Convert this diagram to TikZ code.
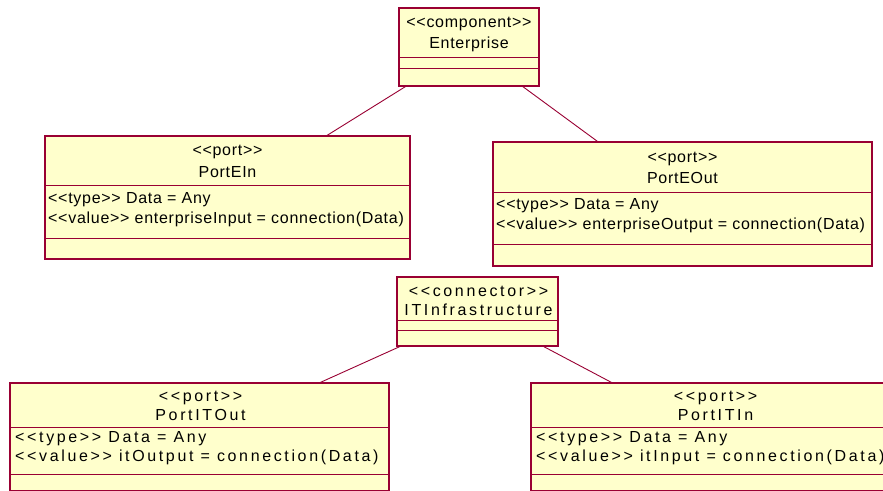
\documentclass[tikz,border=0pt]{standalone}
\usepackage{fontspec}
\usetikzlibrary{calc}
\newfontfamily\umlA[LetterSpace=4.5,Ligatures=TeXOff]{Liberation Sans}
\newfontfamily\umlB[LetterSpace=16.5,Ligatures=TeXOff]{Liberation Sans}
\definecolor{umlred}{RGB}{153,0,51}
\definecolor{umlfill}{RGB}{255,255,204}
\newcommand\umlll{<<}
\newcommand\umlgg{>>}
\newcommand\umldiv[2]{\draw[divline] ($(#1.north west)+(0,#2)$) -- ($(#1.north east)+(0,#2)$);}
\tikzset{
  umlbox/.style={rectangle, draw=umlred, fill=umlfill, line width=1.4pt,
    inner sep=0pt, outer sep=0pt, anchor=north west},
  divline/.style={draw=umlred, line width=0.9pt},
  conn/.style={draw=umlred, line width=0.9pt},
  ta/.style={inner sep=0pt, font=\umlA\fontsize{16}{19}\selectfont},
  tb/.style={inner sep=0pt, font=\umlB\fontsize{16}{19}\selectfont},
  tc/.style={anchor=base},
  tl/.style={anchor=base west}
}
\begin{document}
\begin{tikzpicture}[x=1pt,y=-1pt]
\useasboundingbox (0,0) rectangle (883,490);
\clip (0,0) rectangle (883,490);
\fill[white] (0,0) rectangle (883,490);

% boxes
\node[umlbox, minimum width=140pt, minimum height=78pt] (ent) at (399,8) {};
\node[umlbox, minimum width=365pt, minimum height=123pt] (pin) at (45,136) {};
\node[umlbox, minimum width=379pt, minimum height=124pt] (pout) at (493,142) {};
\node[umlbox, minimum width=161pt, minimum height=69pt] (itc) at (397,277) {};
\node[umlbox, minimum width=379pt, minimum height=108pt] (itout) at (10,383) {};
\node[umlbox, minimum width=367pt, minimum height=108pt] (itin) at (531,383) {};

% compartments
\umldiv{ent}{49}
\umldiv{ent}{60}
\umldiv{pin}{49}
\umldiv{pin}{102}
\umldiv{pout}{50}
\umldiv{pout}{102}
\umldiv{itc}{43}
\umldiv{itc}{53}
\umldiv{itout}{44}
\umldiv{itout}{91}
\umldiv{itin}{44}
\umldiv{itin}{91}

% connectors
\draw[conn] (ent) -- (pin);
\draw[conn] (ent) -- (pout);
\draw[conn] (itc) -- (itout);
\draw[conn] (itc) -- (itin);

% texts: Enterprise
\node[ta, tc] (t1) at (469,27) {\umlll component\umlgg};
\node[ta, tc] (t2) at (469,48) {Enterprise};
% PortEIn
\node[ta, tc] (t3) at (227.5,155.5) {\umlll port\umlgg};
\node[ta, tc] (t4) at (227.5,177) {PortEIn};
\node[ta, tl] (t5) at (48,203) {\umlll type\umlgg{} Data = Any};
\node[ta, tl] (t6) at (48,223) {\umlll value\umlgg{} enterpriseInput = connection(Data)};
% PortEOut
\node[ta, tc] (t7) at (682.5,162) {\umlll port\umlgg};
\node[ta, tc] (t8) at (682.5,183.5) {PortEOut};
\node[ta, tl] (t9) at (496,209) {\umlll type\umlgg{} Data = Any};
\node[ta, tl] (t10) at (496,229.5) {\umlll value\umlgg{} enterpriseOutput = connection(Data)};
% ITInfrastructure
\node[tb, tc] (t11) at (478.5,296.5) {\umlll connector\umlgg};
\node[tb, tc] (t12) at (478.5,315) {ITInfrastructure};
% PortITOut
\node[tb, tc] (t13) at (200.5,401.5) {\umlll port\umlgg};
\node[tb, tc] (t14) at (200.5,420) {PortITOut};
\node[tb, tl] (t15) at (15,442.5) {\umlll type\umlgg{} Data = Any};
\node[tb, tl] (t16) at (15,461.5) {\umlll value\umlgg{} itOutput = connection(Data)};
% PortITIn
\node[tb, tc] (t17) at (715.5,401.5) {\umlll port\umlgg};
\node[tb, tc] (t18) at (715.5,420) {PortITIn};
\node[tb, tl] (t19) at (536,442.5) {\umlll type\umlgg{} Data = Any};
\node[tb, tl] (t20) at (536,461.5) {\umlll value\umlgg{} itInput = connection(Data)};
\end{tikzpicture}
\end{document}
